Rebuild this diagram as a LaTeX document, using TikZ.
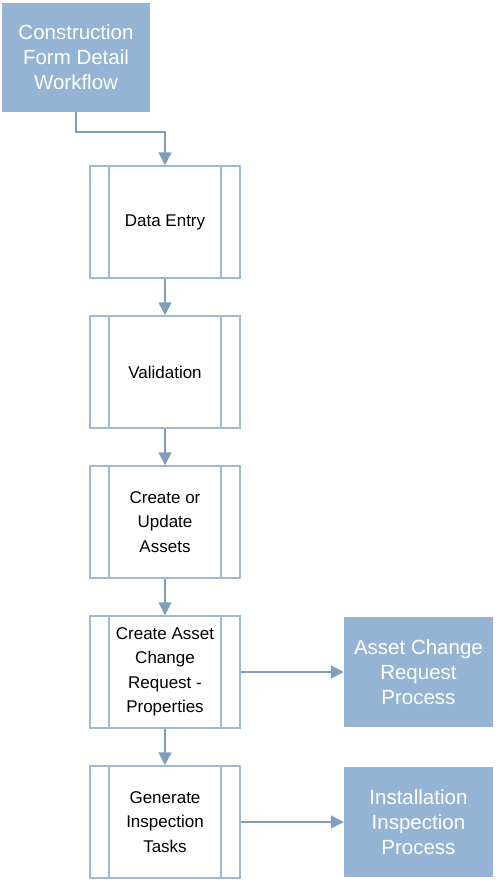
\documentclass[tikz,border=0pt]{standalone}
\usepackage{fontspec}
\setmainfont{Liberation Sans}
\usetikzlibrary{positioning,arrows.meta}
\definecolor{stepblue}{HTML}{95B3D3}
\definecolor{edgeblue}{HTML}{9CB9D6}
\definecolor{arrowblue}{HTML}{809EBB}

\begin{document}
\begin{tikzpicture}[x=1pt, y=1pt, node distance=36.5pt and 103pt,
  ext/.style={fill=stepblue, draw=none, text=white, align=center, inner sep=0pt, minimum width=149pt, minimum height=110pt, font=\fontsize{20.5}{25}\selectfont},
  sub/.style={draw=edgeblue, line width=1.5pt, fill=white, align=center, inner sep=0pt, minimum width=150pt, minimum height=112pt, font=\fontsize{17}{24.5}\selectfont,
    path picture={\draw[edgeblue, line width=1.5pt]
      ([xshift=19pt]path picture bounding box.north west) -- ([xshift=19pt]path picture bounding box.south west)
      ([xshift=-19pt]path picture bounding box.north east) -- ([xshift=-19pt]path picture bounding box.south east);}},
  arr/.style={-{Triangle[length=13pt, width=13pt]}, draw=arrowblue, line width=1.5pt}]
\useasboundingbox (0,0) rectangle (500,-880);
\node[ext, minimum width=148pt, minimum height=109pt] (wf) at (76,-57.5) {Construction\\Form Detail\\Workflow};
\node[sub] (entry) at (165,-222) {Data Entry};
\node[sub, below=of entry] (valid) {Validation};
\node[sub, below=of valid] (assets) {Create or\\Update\\Assets};
\node[sub, below=of assets] (acr) {Create Asset\\Change\\Request -\\Properties};
\node[sub, below=of acr] (tasks) {Generate\\Inspection\\Tasks};
\node[ext, right=of acr] (acrproc) {Asset Change\\Request\\Process};
\node[ext, right=of tasks] (iiproc) {Installation\\Inspection\\Process};
\draw[arr] (wf.south) -- ++(0,-20) -| (entry.north);
\draw[arr] (entry)--(valid); \draw[arr] (valid)--(assets); \draw[arr] (assets)--(acr); \draw[arr] (acr)--(tasks);
\draw[arr] (acr)--(acrproc); \draw[arr] (tasks)--(iiproc);
\end{tikzpicture}
\end{document}
